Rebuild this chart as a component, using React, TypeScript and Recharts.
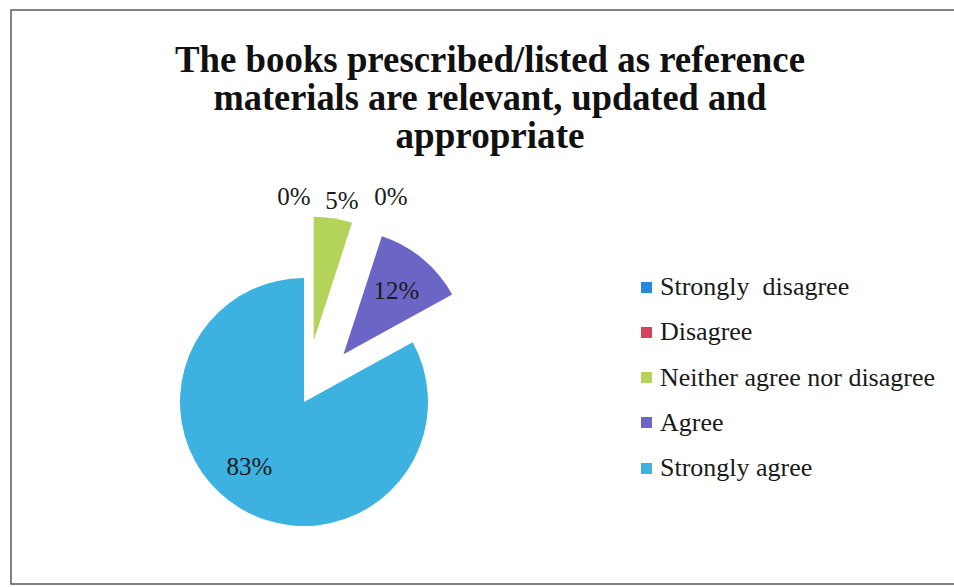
import React from 'react';
import { PieChart, Pie, Cell, Legend } from 'recharts';

// ---- data ----
const categories = ['Strongly  disagree', 'Disagree', 'Neither agree nor disagree', 'Agree', 'Strongly agree'];
const percentages = [0, 0, 5, 12, 83];
const titleLines = [
  'The books prescribed/listed as reference',
  'materials are relevant, updated and',
  'appropriate',
];

// ---- styles ----
const COLORS = ['#2a86d6', '#d8435c', '#b4d35a', '#6b65c6', '#3db2e0'];
const EXPLODE = [0, 0, 62, 62, 0];
const LABEL_NUDGE = [
  [-10, 0],
  [87, 0],
  [6, 1],
  [0, 0],
  [-11, -9],
];
const W = 954;
const H = 587;
const CX = 304;
const CY = 402;
const R = 124;
const SERIF = "'Liberation Serif', 'Times New Roman', Times, serif";
const TITLE_WIDTHS = [630, 553, 189];
const TITLE_BASELINES = [72, 110, 148];

const data = categories.map((name, i) => ({ name, value: percentages[i] }));
const total = percentages.reduce((a, b) => a + b, 0);

const offsets = percentages.map((v, i) => {
  const before = percentages.slice(0, i).reduce((a, b) => a + b, 0);
  const ang = ((before + v / 2) / total) * 2 * Math.PI; // clockwise from top
  return { dx: EXPLODE[i] * Math.sin(ang), dy: -EXPLODE[i] * Math.cos(ang) };
});

const RAD = Math.PI / 180;

const makeLabel = (own: number) => (props: any) => {
  const { cx, cy, midAngle, outerRadius, index, value } = props;
  if (index !== own) return null;
  let x: number;
  let y: number;
  if (value === 0) {
    x = cx;
    y = cy - outerRadius * 1.655;
  } else {
    const f = value > 50 ? 0.69 : value >= 10 ? 0.67 : 1.15;
    x = cx + outerRadius * f * Math.cos(-midAngle * RAD);
    y = cy + outerRadius * f * Math.sin(-midAngle * RAD);
  }
  x += LABEL_NUDGE[index][0];
  y += LABEL_NUDGE[index][1];
  return (
    <text
      x={x}
      y={y}
      textAnchor="middle"
      dominantBaseline="central"
      fontFamily={SERIF}
      fontSize={25}
      fill="#1a1a1a"
    >
      {`${value}%`}
    </text>
  );
};

const renderLegend = () => (
  <div style={{ position: 'relative', width: 310, height: 230 }}>
    {categories.map((name, i) => (
      <div
        key={name}
        style={{
          position: 'absolute',
          left: 0,
          top: i * 45.25,
          height: 30,
          display: 'flex',
          alignItems: 'center',
          whiteSpace: 'pre',
          fontFamily: SERIF,
          fontSize: 26,
          color: '#1a1a1a',
        }}
      >
        <span
          style={{
            display: 'inline-block',
            width: 11,
            height: 11,
            background: COLORS[i],
            marginRight: 8,
          }}
        />
        <span>{name}</span>
      </div>
    ))}
  </div>
);

export default function App() {
  return (
    <div style={{ position: 'absolute', left: 0, top: 0, width: W, height: H, background: '#fff' }}>
      <svg width={W} height={H} style={{ position: 'absolute', left: 0, top: 0 }}>
        <path d={`M ${W + 5} 10 L 11 10 L 11 584 L ${W + 5} 584`} fill="none" stroke="#55595e" strokeWidth={1.5} />
        {titleLines.map((t, i) => (
          <text
            key={t}
            x={490}
            y={TITLE_BASELINES[i]}
            textAnchor="middle"
            fontFamily={SERIF}
            fontWeight="bold"
            fontSize={37}
            fill="#111"
            textLength={TITLE_WIDTHS[i]}
            lengthAdjust="spacingAndGlyphs"
          >
            {t}
          </text>
        ))}
      </svg>
      <div style={{ position: 'absolute', left: 0, top: 0 }}>
        <PieChart width={W} height={H} margin={{ top: 0, right: 0, bottom: 0, left: 0 }}>
          {percentages.map((_, i) => (
            <Pie
              key={i}
              data={data}
              dataKey="value"
              nameKey="name"
              cx={CX + offsets[i].dx}
              cy={CY + offsets[i].dy}
              outerRadius={R}
              startAngle={90}
              endAngle={-270}
              stroke="none"
              isAnimationActive={false}
              label={makeLabel(i)}
              labelLine={false}
            >
              {data.map((d, j) => (
                <Cell key={d.name} fill={j === i ? COLORS[j] : 'transparent'} />
              ))}
            </Pie>
          ))}
          <Legend
            content={renderLegend}
            wrapperStyle={{ position: 'absolute', left: 641, top: 272, width: 310, height: 230 }}
          />
        </PieChart>
      </div>
    </div>
  );
}
